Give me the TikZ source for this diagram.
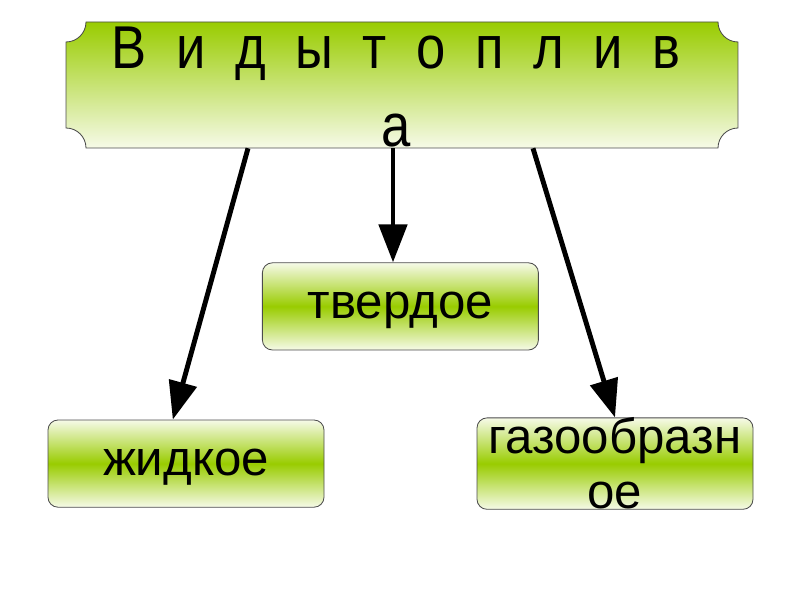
\documentclass[tikz,border=0pt]{standalone}
\usepackage{fontspec}
\setmainfont{Liberation Sans}
\newfontfamily\narrowfont{Liberation Sans}[FakeStretch=0.87]
\usepackage{tikz}
\usepackage{xcolor}
\usetikzlibrary{arrows.meta, positioning, calc}
\definecolor{vert}{RGB}{153,204,0}
\definecolor{vertPale}{RGB}{246,250,232}
\newcommand{\policeTitre}{\narrowfont\fontsize{43}{55.5}\selectfont\spaceskip=21pt\relax}

\begin{document}
\begin{tikzpicture}[
				% styles
				plaque/.style={draw=black!70, line width=0.6pt, top color=vert, bottom color=vertPale},
				titre/.style={font=\policeTitre, align=center, inner sep=0pt},
				boite/.style={draw=black!70, line width=0.6pt, rounded corners=0.25cm,
					top color=vertPale, bottom color=vertPale, middle color=vert,
					minimum width=6.9cm, minimum height=2.18cm, inner sep=0pt,
					font=\fontsize{35}{39}\selectfont, align=center},
				simple/.style={text height=17pt, text depth=0pt},
				fleche/.style={line width=3.5pt, -{Triangle[length=0.95cm, width=0.7cm]}},
				]
				
				\useasboundingbox (0,0) rectangle (20,15);
				
				% plaque du haut
				\shade[plaque] (2.15,14.45) -- (17.95,14.45)
					arc[start angle=180, end angle=270, radius=0.5] -- (18.45,11.8)
					arc[start angle=90, end angle=180, radius=0.5] -- (2.15,11.3)
					arc[start angle=0, end angle=90, radius=0.5] -- (1.65,13.95)
					arc[start angle=270, end angle=360, radius=0.5] -- cycle;
				\node[minimum width=16.8cm, minimum height=3.15cm] (vidy) at (10.05,12.875) {};
				\node[titre, anchor=north] (vidyTexte) at (9.9,14.325) {В и д ы т о п л и в\\а};
				
				
				\node[boite, simple] (tverdoe) at (10.01,7.34) {твердое};
				\node[boite, simple] (zhidkoe) at (4.65,3.41) {жидкое};
				\node[boite] (gaz) at (15.375,3.41) {газообразн\\ое};
				
				
				\draw[fleche] ([xshift=-3.85cm]vidy.south) -- ([xshift=-0.33cm]zhidkoe.north);
				\draw[fleche] ([xshift=-0.225cm]vidy.south) -- ([xshift=-0.185cm]tverdoe.north);
				\draw[fleche] ([xshift=3.275cm]vidy.south) -- (gaz.north);
			\end{tikzpicture}
\end{document}
